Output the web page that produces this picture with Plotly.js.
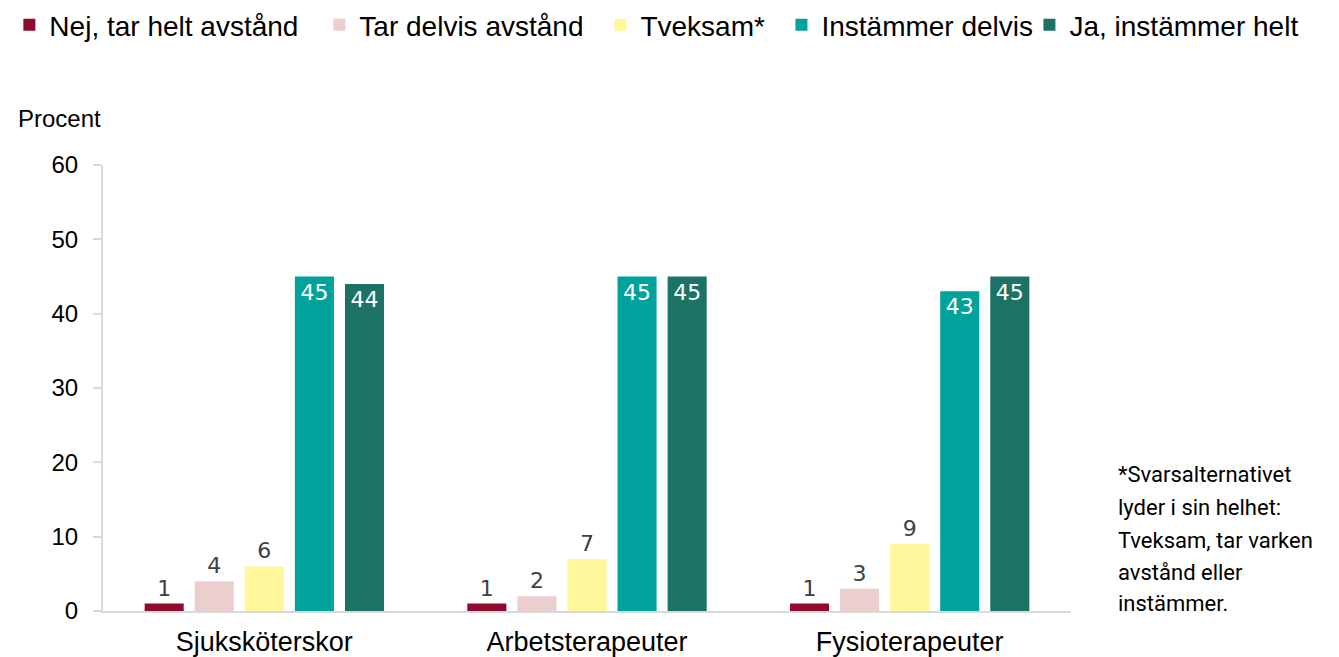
<!DOCTYPE html>
<html>
<head>
<meta charset="utf-8">
<script src="https://cdn.plot.ly/plotly-3.0.1.min.js"></script>
<style>html,body{margin:0;padding:0;background:#fff;}#chart{width:1339px;height:657px;}</style>
</head>
<body>
<div id="chart"></div>
<script>
const categories = ["Sjuksköterskor", "Arbetsterapeuter", "Fysioterapeuter"];
const seriesNames = ["Nej, tar helt avstånd", "Tar delvis avstånd", "Tveksam*", "Instämmer delvis", "Ja, instämmer helt"];
const nejHelt = [1, 1, 1];
const tarDelvis = [4, 2, 3];
const tveksam = [6, 7, 9];
const instammerDelvis = [45, 45, 43];
const jaHelt = [44, 45, 45];
const yTicks = [0, 10, 20, 30, 40, 50, 60];
const noteLines = ["*Svarsalternativet", "lyder i sin helhet:", "Tveksam, tar varken", "avstånd eller", "instämmer."];

const colors = ["#8E0B2D", "#EBCFCF", "#FFF799", "#00A39B", "#1B7265"];
const values = [nejHelt, tarDelvis, tveksam, instammerDelvis, jaHelt];
const labelFont = "DejaVu Sans, Verdana, sans-serif";
const mainFont = "Liberation Sans, Arial, sans-serif";
const legendIds = ["legend", "legend2", "legend3", "legend4", "legend5"];
const legendX = [0.0070, 0.2385, 0.4484, 0.5836, 0.7688];

const traces = values.map((v, i) => {
  const big = i >= 3;
  return {
    type: "bar",
    name: seriesNames[i],
    legend: legendIds[i],
    x: categories,
    y: v,
    marker: {color: colors[i]},
    text: v.map(String),
    textposition: big ? "inside" : "outside",
    insidetextanchor: "end",
    cliponaxis: false,
    textangle: 0,
    textfont: {family: labelFont, size: 22, color: big ? "#FFFFFF" : "#404040"},
    hoverinfo: "x+y+name"
  };
});

const layout = {
  width: 1339, height: 657,
  paper_bgcolor: "#fff", plot_bgcolor: "#fff",
  margin: {l: 103, r: 268, t: 165, b: 46, pad: 0},
  barmode: "group",
  bargap: 0.224,
  bargroupgap: 0.22,
  font: {family: mainFont, color: "#000"},
  showlegend: true,
  xaxis: {
    type: "category",
    showline: true, linecolor: "#D9D9D9", linewidth: 2,
    ticks: "", showgrid: false, zeroline: false,
    tickfont: {family: mainFont, size: 27, color: "#000"},
    ticklabelstandoff: 6
  },
  yaxis: {
    range: [0, 60], tickvals: yTicks,
    showline: true, linecolor: "#D9D9D9", linewidth: 2,
    ticks: "outside", ticklen: 8, tickcolor: "#D9D9D9", tickwidth: 2,
    showgrid: false, zeroline: false,
    tickfont: {family: mainFont, size: 24, color: "#000"},
    ticklabelstandoff: 10
  },
  annotations: [
    {xref: "paper", yref: "paper", x: -0.09, y: 1.07, xanchor: "left", yanchor: "bottom",
     text: "Procent", showarrow: false, font: {family: mainFont, size: 24, color: "#000"}}
  ]
};

legendIds.forEach((id, i) => {
  layout[id] = {
    orientation: "h", xref: "container", yref: "container",
    x: legendX[i], y: 1, xanchor: "left", yanchor: "top",
    font: {family: mainFont, size: 28, color: "#000"},
    itemwidth: 30, bgcolor: "rgba(0,0,0,0)"
  };
});

const noteY = [0.305, 0.233, 0.159, 0.0874, 0.0157];
noteLines.forEach((line, i) => {
  layout.annotations.push({
    xref: "paper", yref: "paper", x: 1.046, y: noteY[i], xanchor: "left", yanchor: "middle",
    align: "left", text: line, showarrow: false,
    font: {family: "Roboto, Arial, sans-serif", size: 22, color: "#000"}
  });
});

Plotly.newPlot("chart", traces, layout, {displayModeBar: false, staticPlot: true});
</script>
</body>
</html>
